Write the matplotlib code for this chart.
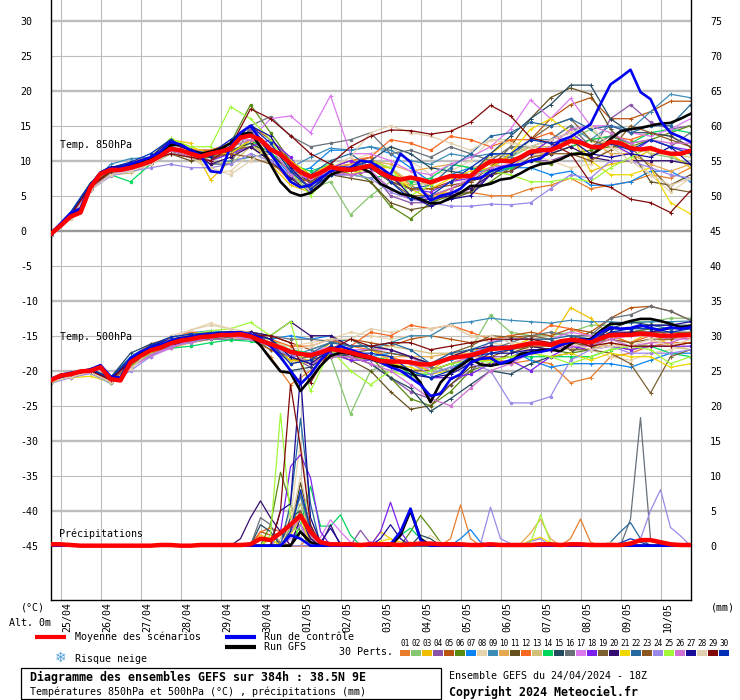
import matplotlib
matplotlib.use('Agg')
import matplotlib.pyplot as plt
from matplotlib.patches import Rectangle
import numpy as np

W, H = 740, 700

dates = ['25/04', '26/04', '27/04', '28/04', '29/04', '30/04', '01/05', '02/05',
         '03/05', '04/05', '05/05', '06/05', '07/05', '08/05', '09/05', '10/05']
left_ticks = list(range(30, -50, -5))
right_ticks = list(range(75, -5, -5))

colors = ['#E87D2C', '#86C66E', '#F0C000', '#8A52A8', '#B85410', '#5A8A10', '#0A84F0', '#E8D4AC',
          '#3C8CB8', '#E8A850', '#66501E', '#F86820', '#D0C078', '#00D85C', '#244A60', '#687078',
          '#DC78F0', '#7C20F0', '#7C6030', '#340C70', '#F0D800', '#2468A0', '#8C5820', '#9C88E8',
          '#A0F838', '#D070D0', '#180C98', '#E0D0B0', '#800808', '#0030B8']

# 6-hourly lines, 65 values
mean_850 = [-0.5, 0.7, 2, 2.6, 6.2, 8.1, 8.7, 8.7, 9, 9.4,
            9.9, 10.7, 11.7, 11.5, 11, 10.6, 11, 11.3, 11.7, 13.3,
            13.6, 13, 11.6, 10.9, 9.6, 8.4, 7.7, 8.3, 9.1, 8.8,
            8.7, 9, 9.3, 8.3, 7.6, 7.3, 7.6, 7.3, 6.9, 7.4,
            7.8, 7.8, 7.8, 9, 9.9, 10, 9.9, 10.5, 11.3, 11.5,
            11.5, 12.1, 12.8, 12.6, 12, 11.9, 12.7, 12.5, 11.8, 11.6,
            11.8, 11.3, 11, 11, 11.4]
gfs_850 = [-0.4, 0.9, 2.2, 3, 6.5, 8.3, 9, 9, 9.3, 9.8,
           10.2, 11, 12.2, 12.3, 11.5, 11, 11.3, 11.7, 12.5, 13.8,
           14, 12, 9.5, 7, 5.5, 5, 5.4, 6.5, 8, 8.5,
           9, 9, 8.3, 6.7, 6, 5.3, 5, 4.5, 3.9, 4,
           4.7, 5.4, 6.4, 6.4, 6.7, 7.3, 7.5, 8.2, 9, 9.5,
           9.7, 10.2, 10.9, 11, 10.8, 11.7, 13.1, 14.2, 14.5, 14.7,
           15, 15.3, 15.4, 16, 16.7]
ctrl_850 = [-0.4, 1, 2.5, 3.2, 6.5, 8.3, 9, 9, 9.5, 10,
            10.5, 11.3, 12.7, 12.3, 11.5, 10.8, 8.5, 8.3, 12, 14,
            15, 13, 11, 9, 7, 6.2, 6.5, 7.5, 8.5, 9,
            9, 10, 9.8, 9, 8, 11, 9.8, 6, 4.3, 5,
            5.3, 6, 7.4, 7.5, 8.5, 9, 9.3, 9.5, 10, 10.3,
            11.5, 12.9, 13.4, 14.3, 15.2, 18.1, 20.9, 21.9, 23, 19.8,
            18.8, 15.7, 14, 13.4, 12.7]
mean_500 = [-21.4, -20.7, -20.5, -20.1, -20, -19.5, -21.2, -21.4, -18.8, -17.9,
            -17.1, -16.7, -16.1, -15.7, -15.5, -15.2, -15.1, -14.9, -14.9, -14.8,
            -15.1, -15.7, -16.2, -16.7, -17.3, -17.6, -17.8, -17.4, -16.9, -17.1,
            -17.4, -17.8, -18.1, -18.6, -18.7, -18.7, -18.8, -19.1, -19.1, -18.7,
            -18.2, -18, -17.8, -17.4, -16.9, -16.8, -16.7, -16.4, -16.1, -16.1,
            -16.3, -15.8, -15.6, -15.7, -16, -15.4, -14.9, -14.9, -14.9, -14.7,
            -14.8, -15, -15, -14.9, -14.9]
gfs_500 = [-21.3, -20.7, -20.4, -20.2, -19.9, -19.3, -21, -21.3, -18.6, -17.6,
           -16.9, -16.5, -15.9, -15.5, -15.3, -15, -14.9, -14.7, -14.7, -14.6,
           -15, -16.4, -18.3, -20.1, -20.3, -22.9, -21.2, -19.3, -17.9, -17.4,
           -17.6, -18, -18.3, -18.8, -19.3, -19.5, -20, -21.7, -24.5, -21.7,
           -20.2, -19.3, -18.3, -19.1, -19.3, -19, -18.8, -17.6, -17.4, -17.1,
           -17, -17.2, -16.2, -15.5, -15.5, -14.3, -13.3, -13.3, -12.9, -12.6,
           -12.6, -12.9, -13.3, -13.8, -13.6]
ctrl_500 = [-21.2, -20.6, -20.3, -20.1, -19.8, -19.2, -20.8, -21, -18.2, -17.3,
            -16.7, -16.3, -15.7, -15.4, -15.2, -14.9, -14.8, -14.7, -14.6, -14.5,
            -14.8, -15.3, -16.5, -18, -20, -21.9, -20.5, -18.5, -17, -16.5,
            -17, -17.5, -18, -18.8, -19.5, -20, -21, -22, -23.6, -23.3,
            -21.2, -20.5, -18.8, -18.3, -18.2, -19, -18.5, -18, -17.5, -17.3,
            -17, -16.3, -15.9, -15.5, -15.7, -14.5, -13.8, -14, -13.9, -13.5,
            -13.9, -14.2, -13.8, -14, -13.8]
mean_rain = [0.2, 0.2, 0.1, 0, 0, 0, 0, 0, 0, 0,
             0, 0.1, 0.1, 0, 0, 0.1, 0.1, 0.1, 0.1, 0.1,
             0.2, 1, 0.8, 1.8, 3, 4.3, 2, 0.5, 0.2, 0.2,
             0.2, 0.1, 0.2, 0.2, 0.2, 0.1, 0.2, 0.3, 0.3, 0.2,
             0.2, 0.2, 0.1, 0.1, 0.2, 0.1, 0.1, 0.1, 0.1, 0.2,
             0.2, 0.1, 0.2, 0.2, 0.1, 0.1, 0.1, 0.1, 0.3, 0.8,
             0.8, 0.5, 0.2, 0.1, 0.1]
ctrl_rain = {24: 1.5, 25: 1, 34: 0.2, 35: 2, 36: 5.3, 37: 0.8}
gfs_rain = {25: 2, 26: 0.5, 35: 1.5, 36: 5, 37: 1}

# members, 12-hourly, 33 values
perts_850 = [
    [-0.7, 2, 6, 8.5, 9.2, 10, 12, 11, 10.5, 12, 14, 10, 7, 6, 8.5, 9.5, 10, 9, 6.5, 5, 5.5, 5.5, 5, 5, 6, 6.5, 7.5, 6, 6.5, 7, 8, 7.5, 9],
    [-0.5, 2.2, 6.5, 8.5, 9.5, 10.5, 12, 11, 10.5, 11, 12.5, 10, 7.5, 6, 7, 2.3, 5, 7, 6.5, 7, 8, 8, 9, 10.5, 12, 12, 13, 14.5, 12, 12.5, 11, 10.5, 9.5],
    [-0.4, 2.4, 6.5, 9, 9.5, 10.5, 13, 12.5, 7.3, 10, 13, 9.5, 6.5, 5.5, 9, 9, 9.5, 8, 6, 4.5, 6, 7, 11, 13, 11, 13, 14, 8.5, 9.5, 10, 11.5, 11, 9],
    [-0.6, 2.1, 6, 8, 9, 9.5, 11.5, 10.5, 10, 11.5, 14.5, 12, 9, 7, 9, 8, 8.5, 5, 4, 4, 5.5, 5.5, 8, 9, 10, 10, 11, 11, 16, 18, 15.5, 14.5, 15],
    [-0.5, 2.2, 6.3, 8.8, 9.5, 10.5, 12.5, 11.5, 11.5, 12.5, 15, 13, 10, 7, 9, 9.5, 10.5, 7.5, 6, 6, 7, 8, 10, 10.5, 13, 16, 18, 19, 16, 16, 17, 18.5, 18.5],
    [-0.6, 2, 6.2, 8.7, 9, 10, 11.5, 11, 11, 12.5, 18, 14, 10, 8, 9, 9, 7, 3.5, 1.7, 4, 5, 5.5, 7, 9, 10, 9.5, 11, 11.5, 12, 12, 13, 14, 15],
    [-0.4, 2.6, 6.8, 9, 9.5, 10.5, 12.5, 11.5, 11, 12.5, 15, 11, 8, 9, 11.5, 11.5, 12, 11, 9, 7, 8, 9, 8, 9, 9, 8, 8.5, 6.5, 6.5, 7, 8.5, 8.5, 7],
    [-0.5, 1.8, 5.8, 8, 8.7, 9.5, 11, 10.5, 8.5, 8.5, 11, 10, 9, 6, 9, 10, 11, 12, 10, 8, 8.5, 10, 13, 13, 11, 10, 9, 9.5, 12, 11, 8, 5.5, 7.5],
    [-0.6, 2.2, 6.4, 9.5, 10.3, 10.5, 12, 11, 9.5, 10, 10.5, 11, 9, 10.5, 11.8, 11.5, 12, 11.5, 10, 9.5, 11, 10.5, 11, 10.5, 13, 13, 15, 13, 15, 14.5, 17, 19.5, 19],
    [-0.5, 2.1, 6.2, 8.7, 9.2, 10, 12.5, 11.5, 11, 13, 14, 11, 8.5, 7.5, 9, 9.5, 10, 9.5, 8.5, 9, 9.5, 9, 9.5, 9, 11, 11, 12, 13, 11, 11, 9.5, 8.5, 9.5],
    [-0.7, 1.9, 5.8, 8.5, 9, 9.5, 11, 10, 10.5, 11, 13, 11, 8.5, 6, 8, 7.5, 7, 4, 3, 3.5, 4.5, 5.5, 9, 12, 16, 19, 20.4, 19.5, 14.5, 11.5, 7, 6.5, 8],
    [-0.5, 2.3, 6.4, 8.6, 9.8, 10.5, 12.5, 11.5, 11.5, 12, 14, 10, 7.5, 7, 9, 10, 10.5, 13, 12.5, 11.5, 13.5, 13, 12, 13, 13, 14, 12, 13, 13.5, 13, 14, 13.5, 12],
    [-0.6, 2, 6, 8, 8.2, 9.5, 11, 10.5, 10, 9.5, 12, 11, 9, 8, 9, 9, 9.5, 9, 7, 6.5, 8, 8, 10.5, 11, 12, 12, 13.5, 12, 13, 12.5, 11, 11, 10.5],
    [-0.5, 2.2, 6, 8, 7, 9.5, 12, 11, 10.5, 12, 13, 11, 9.5, 8.5, 9.5, 8, 7.5, 8, 7, 7.5, 9.5, 9, 8.5, 9, 10, 11, 12, 13, 13.5, 12.5, 14, 14.5, 14],
    [-0.4, 2.5, 6.8, 9, 9.5, 10, 12, 11, 11, 11.5, 12.5, 11, 8.5, 7, 8.5, 9, 10, 12, 11, 9, 8.5, 8, 11, 13.5, 16, 18, 20.8, 20.8, 16, 14, 14, 13.5, 12],
    [-0.6, 2.1, 6.2, 8.5, 9, 10, 11, 11.5, 9.5, 9.5, 15, 16.3, 13.5, 12, 12.5, 13, 14, 11, 11.5, 10.5, 12, 11, 10, 12, 12, 13, 15, 12, 13.5, 12.5, 13, 12, 14],
    [-0.5, 2.3, 6.5, 8.7, 9.5, 10.5, 13, 11.5, 11, 13, 13, 16, 16.4, 14, 19.3, 11, 11, 10, 8.5, 8, 9.5, 10.5, 12, 14.5, 18.7, 16, 18.9, 15, 15, 14, 13.5, 14.5, 16],
    [-0.5, 2.2, 6.4, 8.5, 9, 10, 11.5, 10.5, 10, 11, 12, 13, 10.5, 6.5, 9, 10, 9, 7, 6, 5.5, 7, 7.5, 8, 9.5, 11, 13, 14, 12, 12.5, 11, 13, 12, 11.5],
    [-0.6, 2, 6, 8.3, 8.8, 9.5, 11, 10.5, 10, 11.5, 12, 10, 7.5, 6.5, 8.5, 8.5, 9, 7, 5, 5, 6, 7, 9, 11, 13, 15, 16, 13, 12, 12, 9, 6, 5.5],
    [-0.5, 2.2, 6.4, 8.6, 9.2, 10.2, 12.5, 11.5, 9.5, 10.5, 12, 10, 7.5, 5.5, 8, 8, 8.5, 6, 4.5, 4.5, 5, 6, 8, 8.5, 10, 11, 12, 10.5, 10, 10, 10, 10, 9.5],
    [-0.4, 2.3, 6.5, 8.8, 9.6, 10.5, 13, 12, 11, 11, 13, 12, 10, 8, 9.5, 8, 9, 9, 6, 6, 7.5, 8.5, 9, 11, 14.5, 16, 14, 10, 8, 8, 9, 4, 2.4],
    [-0.6, 2.1, 6.2, 8.6, 9.2, 10, 12, 11, 11, 12, 14, 12, 9, 8, 10, 11, 9, 7, 6, 6.5, 9, 11, 13.5, 14, 15.5, 15, 16, 14.5, 15, 14, 15, 15, 18],
    [-0.5, 2.2, 6.3, 8.4, 9, 9.5, 11.5, 10.5, 10.5, 11, 10.5, 9.5, 8, 7, 8, 8.5, 9, 7, 6, 6, 6.5, 7, 8, 8.5, 10.5, 11, 11, 10, 11.5, 15, 14, 13, 12],
    [-0.8, 1.8, 5.8, 7.8, 8.5, 9, 9.5, 9, 9, 9.5, 11, 10, 8, 5.5, 8, 8, 7.5, 5.5, 4.5, 4, 3.5, 3.5, 3.8, 3.7, 4, 6, 8, 7.5, 10, 10, 9, 8, 7.5],
    [-0.5, 2.4, 6.8, 8.8, 9.5, 10.5, 13.2, 12, 12, 17.7, 16, 13, 8.5, 5, 8, 9, 10, 9, 5, 6.5, 8, 8, 8.5, 8, 7, 7, 7.5, 7, 9, 10.5, 12, 11, 11],
    [-0.6, 2.1, 6, 8, 8.7, 9.5, 11.5, 10.5, 10, 12, 13, 12, 8, 7.5, 8.5, 8, 8.5, 6, 4.5, 5, 6, 7.5, 9, 9.5, 11, 12, 14.5, 15, 14, 12.5, 13, 12.5, 12.5],
    [-0.5, 2.3, 6.6, 9, 9.6, 10.5, 13, 11.5, 10.5, 12.5, 15, 13.5, 9, 6, 8.5, 9, 9, 8, 5, 3.5, 4.5, 5, 8, 9.5, 11, 11.5, 13, 11, 10.5, 11, 10.5, 12, 9.5],
    [-0.7, 1.7, 5.8, 8, 8.5, 9.5, 11, 10.5, 9, 8, 10, 12, 8.5, 6, 9, 10.5, 14, 15, 14, 13.5, 12.5, 11.5, 13, 12.5, 12, 13, 14, 15, 12, 10, 8, 6.5, 7.5],
    [-0.5, 2.2, 6.3, 8.5, 9.2, 10, 11, 10.5, 10, 12, 17.4, 16, 13.6, 11, 9.5, 12, 13.5, 14.4, 14.3, 13.8, 14.2, 15.5, 17.9, 16.4, 13.3, 12.5, 11, 6.9, 6.2, 4.5, 4, 2.6, 5.7],
    [-0.4, 2.6, 6.8, 9, 9.8, 11, 13, 11.5, 11, 13, 15, 12.5, 8.5, 6, 8, 9, 10, 7, 4.5, 5, 7, 9, 11, 11, 13, 12.5, 13, 12, 12.5, 11.5, 13, 12, 11],
]
perts_500 = [
    [-21.5, -21, -20, -21.4, -19, -17, -15.5, -15.3, -15, -14.5, -15, -18, -22, -20, -17.5, -16.5, -17, -18, -19, -20, -19, -18, -18, -19, -18.5, -19, -21.7, -21, -18, -17.5, -16.5, -16, -16],
    [-21.6, -20.7, -20.1, -21.7, -19.2, -17.2, -16, -15.5, -15, -14.8, -14.8, -15.5, -17, -19, -18, -26.2, -20, -19, -20, -19.5, -18, -17, -12, -14.5, -15, -15, -14.5, -13.5, -13.5, -13, -13, -12.5, -12.5],
    [-21.4, -20.5, -20, -21.3, -18.5, -16.5, -15.5, -15.2, -14.8, -14.5, -14.5, -16, -19, -18.5, -16, -15.5, -17, -18.5, -19, -20, -18, -17, -17, -16.5, -15.5, -15.5, -11, -12.5, -15, -16, -14.5, -16.5, -16],
    [-21.5, -20.6, -19.9, -21.4, -19, -17.5, -16.5, -16, -15.5, -15.5, -15.5, -17, -18, -19.5, -17, -18, -19, -21, -23, -24, -22, -20, -18, -18, -17, -17, -16, -16.5, -15, -14.5, -14, -15, -15.5],
    [-21.4, -20.5, -20, -21.2, -18.5, -16.8, -16, -15.5, -15, -15, -14.5, -15, -16, -17, -16, -15.5, -16, -16.5, -15.5, -15, -15.5, -16, -15.5, -15, -14.5, -15, -14, -14.5, -12.5, -11, -10.8, -11.5, -12.8],
    [-21.5, -20.8, -20.2, -21.5, -19.4, -17.5, -16.5, -15.8, -15.3, -15, -15, -15.5, -17.5, -18, -17.5, -17.5, -18, -21, -24, -25, -23, -20, -19, -18.5, -17.5, -17, -17.5, -17, -15, -14.5, -14, -14, -13.5],
    [-21.3, -20.4, -19.8, -21, -18, -16.3, -15.2, -14.6, -14.3, -14.5, -14.5, -15.5, -15, -15.5, -15, -17.5, -18, -17.5, -18, -19, -18.5, -17.5, -16.5, -17, -18.5, -19.5, -19, -19, -19, -19.5, -18.5, -17.5, -17.5],
    [-21.7, -20.9, -20.2, -21.6, -19.5, -17, -15, -14.2, -13.2, -14, -14.5, -16, -16.5, -16, -15.5, -14.5, -15, -15.5, -15, -15, -13.5, -15, -16, -16.5, -16.5, -17, -16, -17, -18, -18.5, -17.5, -17, -16.5],
    [-21.5, -20.6, -20, -21.3, -18.3, -16.5, -16, -15.6, -15.2, -15, -15.3, -16.5, -18, -17, -16, -15.5, -17, -16, -15, -15, -13.3, -13, -12.5, -12.8, -13, -13.2, -12.8, -13, -13, -13.2, -13, -13, -12.9],
    [-21.4, -20.8, -20.1, -21.4, -19, -17.5, -16.8, -16, -15.5, -15.2, -15.5, -17, -18.5, -19, -17.5, -18, -18.5, -18, -18, -18, -17.5, -17.5, -17, -16.5, -17, -17, -16.5, -17, -16, -17, -16, -15.5, -15],
    [-21.5, -20.7, -20.1, -21.5, -19.5, -17.5, -16.3, -15.5, -15.2, -15, -15.2, -16.5, -18.5, -18.5, -17.5, -18.5, -20, -23, -25.5, -25, -22, -19.5, -19, -17.5, -16.5, -17, -15.5, -14.5, -15, -14.5, -14.5, -14.5, -14.5],
    [-21.3, -20.4, -19.7, -21.1, -18.2, -16.2, -15.3, -14.5, -14.6, -14.7, -14.5, -15.5, -16.5, -16.5, -15.5, -16.5, -14.5, -15, -13.5, -14, -13.5, -14.5, -15.5, -15, -15.5, -13.5, -14, -15, -15, -16, -15, -15, -15.5],
    [-21.5, -20.6, -20.2, -21.3, -19, -17, -16, -15.3, -14.6, -14.5, -15, -16.5, -17.5, -17.5, -17, -17, -17, -16.5, -17, -17.5, -17.5, -18, -17, -16.5, -16, -16.5, -17, -16, -16.5, -17, -16.5, -16.5, -17],
    [-21.6, -20.9, -20.3, -21.8, -19.5, -17.8, -16.8, -16.5, -16, -15.6, -15.8, -16.5, -17, -17.5, -18, -18, -18, -18.5, -20.5, -20.5, -19.5, -18.5, -18.5, -18, -18, -18, -18, -18, -17, -16.5, -16.5, -17.5, -18],
    [-21.4, -20.5, -19.8, -21, -17.5, -16.2, -15.5, -15, -14.8, -15, -15.3, -16.5, -20, -19.5, -17.5, -18, -19, -21, -22.5, -25.8, -24, -22, -20, -20.5, -19, -18, -17.5, -15.5, -14, -13, -13.5, -13.5, -13.5],
    [-21.5, -20.7, -20, -21.5, -19.2, -17.5, -16.3, -15.8, -15.5, -15.2, -14.5, -15, -15.5, -15.5, -15.8, -16.5, -16.5, -17, -18, -19.5, -20, -19, -17, -16, -15, -14.5, -15, -15, -12.5, -12, -10.8, -11.5, -12.8],
    [-21.6, -20.8, -20.3, -21.7, -19.3, -18, -16.8, -15.6, -15.3, -15, -15.5, -16, -17.5, -17.5, -16.5, -17, -17, -17, -18, -20, -19, -18, -15.8, -15.5, -15.5, -15.5, -14.5, -15, -15.5, -15, -15, -15.5, -15.5],
    [-21.5, -20.6, -20, -21.4, -19.4, -17, -16, -15.5, -15.2, -14.7, -15, -16, -17.5, -18, -17.5, -18.5, -18.5, -19, -20, -21, -21, -20.5, -19, -18.5, -20, -18, -16.5, -17, -16.5, -17, -16.5, -16.5, -16.5],
    [-21.4, -20.5, -19.9, -21.3, -18.8, -16.8, -16, -15.3, -15, -14.6, -15, -16.5, -18.5, -18, -17, -17.5, -17, -17.5, -18, -19, -17.5, -16.5, -15, -15.2, -15, -15.5, -17, -17, -17.5, -19, -23.2, -18, -17],
    [-21.5, -20.6, -20.2, -21.2, -18.7, -17, -16.5, -15.5, -15, -14.8, -14.5, -15, -13, -15, -15, -16.5, -16.5, -17, -18, -19, -18, -17, -16.5, -16.5, -16.5, -17, -16, -16, -14.5, -14.5, -14.5, -14, -13.8],
    [-21.5, -21, -20.8, -21.6, -19.3, -17.5, -16.2, -15.4, -15, -14.7, -15.2, -16.5, -18.5, -18.5, -16.5, -17, -18, -19, -19.5, -20.5, -20, -18.5, -18.5, -18, -17.5, -18, -17.5, -18.5, -17.5, -18, -18, -19.5, -19],
    [-21.4, -20.5, -19.9, -21, -18.2, -16.6, -15.5, -15.2, -14.8, -14.5, -14.8, -15.5, -18, -17.5, -16, -16.5, -16.5, -16, -17, -19, -17.5, -17, -16, -15.5, -15.5, -15.5, -15, -15.5, -14, -14, -13.5, -14, -14],
    [-21.5, -20.7, -20.1, -21.5, -19.4, -17.3, -16.1, -15.5, -15.2, -15, -15.3, -17, -18, -19, -18, -18, -18, -19, -20, -20, -19, -18.5, -18, -17, -16.5, -16.5, -16, -16.5, -15.5, -16, -15.5, -15.5, -14.5],
    [-21.8, -21, -20.4, -21.8, -20, -18, -16.5, -16, -15.3, -15, -15.5, -16.5, -18, -17.5, -17, -17.5, -18.5, -18.5, -19, -20.5, -19.5, -19, -20, -24.6, -24.6, -23.7, -18.5, -17, -16.5, -17.5, -17.5, -17.5, -17],
    [-21.7, -20.8, -20.2, -21.7, -19.5, -17.5, -15.8, -14.8, -14.3, -14, -13.1, -15, -13, -22.9, -17, -20, -22, -20, -21, -20, -19, -18.5, -18.8, -18, -17.5, -18, -19, -18, -17, -16.5, -17, -19, -18],
    [-21.5, -20.7, -20.1, -21.6, -19.6, -17.7, -16.7, -15.7, -15.3, -15, -15.5, -16.5, -17.5, -19, -18, -18, -19, -20, -22, -24, -25, -22.5, -20, -19, -17.5, -17, -16.5, -16.5, -15.5, -16.5, -16, -16, -15],
    [-21.4, -20.6, -20, -21.2, -18.5, -16.5, -15.5, -15, -14.6, -14.4, -14.6, -15.5, -18, -19, -17, -17.5, -18, -19.5, -20.5, -21, -20.5, -19, -17.5, -17.5, -17, -17, -15.5, -16, -14, -14, -13.5, -13.5, -13],
    [-21.6, -20.9, -20.2, -21.6, -19.8, -17, -15.5, -14.2, -13.5, -14, -14.7, -16, -17, -16.5, -15.5, -15.5, -14, -14.5, -14, -14, -13.5, -15, -15, -16, -16, -16, -16, -17, -16.5, -16.5, -15.5, -16.5, -15.5],
    [-21.4, -20.5, -20, -21.3, -18.7, -16.8, -15.8, -15.2, -15, -14.8, -15, -15, -16, -21.7, -17, -15.5, -16.5, -16, -16, -17, -16.5, -16, -15.5, -15.5, -15.5, -16, -15.5, -16.5, -16, -16.5, -16.5, -16.5, -16],
    [-21.4, -20.4, -19.8, -21, -18.2, -16.4, -15.2, -14.8, -14.6, -14.6, -14.9, -16, -19, -18.5, -16.5, -17.5, -17.5, -18, -20, -21, -20, -18, -17.5, -17, -16, -16, -15.5, -16, -14.5, -14, -14, -14.5, -14],
]
# member rain: step -> mm, everything else is dry
rain_events = {
    1: {26: 1.5, 40: 1, 41: 5.8, 42: 1, 52: 1, 53: 3.8, 54: 0.5},
    2: {24: 2.5, 25: 6, 26: 2},
    3: {21: 1.5, 22: 1, 33: 2, 34: 1, 35: 0.5, 36: 0.5},
    4: {25: 3, 26: 1, 31: 2.2, 32: 0.3},
    5: {21: 2, 22: 1.5, 23: 0.5, 25: 2},
    6: {22: 3, 23: 10.5, 24: 6, 25: 2, 36: 2, 37: 4.3, 38: 2.5, 39: 0.5},
    7: {24: 2, 25: 3, 41: 1, 42: 2.3, 43: 0.5},
    8: {24: 4, 25: 15, 26: 4, 38: 1.5, 39: 0.5},
    9: {22: 1, 24: 3, 25: 7, 26: 2},
    10: {47: 0.3, 48: 1.8, 49: 3.8, 50: 1},
    11: {24: 2, 25: 9, 26: 3},
    12: {21: 2, 22: 2.5, 23: 2},
    13: {23: 1, 24: 5, 25: 6, 26: 2},
    14: {25: 3, 26: 8.5, 27: 2.8, 28: 2.8, 29: 4.4, 30: 1.5, 35: 1.5, 36: 2.5, 37: 1},
    15: {21: 3, 22: 2, 24: 4, 25: 5, 26: 1, 37: 1.5, 38: 1},
    16: {21: 4, 22: 3, 24: 3, 25: 7.5, 26: 2, 58: 3.8, 59: 18.3, 60: 1},
    17: {24: 1, 25: 3, 27: 1.2, 28: 3.7, 29: 2, 30: 0.5, 32: 0.6},
    18: {23: 2, 24: 11.3, 25: 13, 26: 9.7, 27: 2, 33: 2, 34: 6.2, 35: 2},
    19: {24: 3, 25: 4.5, 26: 1},
    20: {19: 1, 20: 4, 21: 6.4, 22: 4, 23: 2, 25: 4, 26: 1, 28: 3},
    21: {22: 1, 24: 1.5, 25: 4, 33: 0.6, 34: 1, 48: 0.8, 49: 1.2, 50: 0.4},
    22: {24: 6, 25: 18.2, 26: 6, 56: 0.5, 57: 2, 58: 3.3, 59: 1},
    23: {24: 2, 25: 5, 26: 1.5},
    24: {43: 0.2, 44: 5.5, 45: 1, 46: 0.3, 48: 0.6, 49: 1, 58: 0.2, 59: 1, 60: 5, 61: 8, 62: 2.6, 63: 1.4},
    25: {22: 1.5, 23: 18.9, 24: 4, 25: 1, 37: 0.5, 48: 0.4, 49: 4.4, 50: 0.5},
    26: {24: 2, 25: 4, 26: 1.5},
    27: {23: 5, 24: 6, 25: 24.5, 26: 4, 27: 0.5, 28: 2.5, 29: 0.3, 33: 1, 34: 3, 35: 1},
    28: {24: 3, 25: 10, 26: 3, 56: 0.5},
    29: {23: 5, 24: 23, 25: 14, 26: 3},
    30: {24: 2, 25: 8, 26: 2.5, 57: 0.4, 58: 1, 59: 0.5},
}

steps = np.arange(65)
pert_steps = np.arange(0, 65, 2)
rain_base = -45


def rain_line(events):
    vals = np.zeros(65)
    for s, mm in events.items():
        vals[s] = mm
    return vals + rain_base


fig = plt.figure(figsize=(W / 100, H / 100), dpi=100)
ax = fig.add_axes([50.5 / W, 100 / H, 640 / W, 600 / H])
ax.set_xlim(0, 64)
ax.set_ylim(-52.76, 32.96)
ax.set_xticks([])
ax.set_yticks([])
ax.spines['top'].set_visible(False)
for side in ['left', 'right', 'bottom']:
    ax.spines[side].set_linewidth(1.0)

mono = 'DejaVu Sans Mono'


def px_text(x, y, s, size=7.2, **kw):
    fig.text(x / W, 1 - y / H, s, family=mono, fontsize=size, va='center', **kw)


# grid
for k in range(len(dates)):
    ax.axvline(1 + 4 * k, color='#bbbbbb', lw=0.8, zorder=1)
for t in left_ticks:
    if t == 0:
        ax.axhline(t, color='#999999', lw=1.7, zorder=1)
    elif t % 10 == 0:
        ax.axhline(t, color='#bdbdbd', lw=1.7, zorder=1)
    else:
        ax.axhline(t, color='#bdbdbd', lw=0.8, zorder=1)

# members first
markers = ['+', 'o']
for i, col in enumerate(colors):
    m = markers[i % 2]
    ms = 3 if m == '+' else 1.8
    for vals in [perts_850[i], perts_500[i]]:
        ax.plot(pert_steps, vals, color=col, lw=0.9, marker=m, ms=ms, mew=0.7, zorder=2)
    ax.plot(steps, rain_line(rain_events[i + 1]), color=col, lw=0.9, zorder=2)

for vals in [gfs_850, gfs_500, rain_line(gfs_rain)]:
    ax.plot(steps, vals, color='black', lw=1.9, zorder=3)
for vals in [ctrl_850, ctrl_500, rain_line(ctrl_rain)]:
    ax.plot(steps, vals, color='#0000f0', lw=1.9, zorder=4)
for vals in [mean_850, mean_500, np.array(mean_rain) + rain_base]:
    ax.plot(steps, vals, color='#ff0000', lw=3.2, zorder=5)

# tick labels
for t in left_ticks:
    ax.text(-30.5 / 640, t - 0.15, str(t), transform=ax.get_yaxis_transform(), family=mono,
            fontsize=7.2, ha='left', va='center', clip_on=False)
for t, r in zip(left_ticks, right_ticks):
    ax.text(659.5 / 640, t - 0.15, str(r), transform=ax.get_yaxis_transform(), family=mono,
            fontsize=7.2, ha='left', va='center', clip_on=False)
for k, d in enumerate(dates):
    px_text(67.5 + 40 * k, 617, d, rotation=90, ha='center')

px_text(60, 145, 'Temp. 850hPa')
px_text(60, 337, 'Temp. 500hPa')
px_text(59, 534, 'Précipitations')
px_text(20.5, 607, '(°C)')
px_text(9, 623, 'Alt. 0m')
px_text(711, 607, '(mm)')

# legend
fig.add_artist(plt.Line2D([35 / W, 66 / W], [1 - 637 / H] * 2, color='#ff0000', lw=3, solid_capstyle='butt'))
fig.add_artist(plt.Line2D([225 / W, 256 / W], [1 - 637 / H] * 2, color='#0000f0', lw=3, solid_capstyle='butt'))
fig.add_artist(plt.Line2D([225 / W, 256 / W], [1 - 647 / H] * 2, color='black', lw=3, solid_capstyle='butt'))
px_text(75, 637, 'Moyenne des scénarios')
px_text(264, 637, 'Run de contrôle')
px_text(264, 647, 'Run GFS')
px_text(339, 652, '30 Perts.')
px_text(75, 659, 'Risque neige')
fig.text(60.5 / W, 1 - 658 / H, '\u2744', family='DejaVu Sans', fontsize=10, color='#4f9fd8',
         ha='center', va='center')

for i, col in enumerate(colors):
    x0 = 400 + 11 * i
    fig.add_artist(Rectangle((x0 / W, 1 - 656 / H), 10 / W, 6 / H, color=col, lw=0,
                             transform=fig.transFigure))
    px_text(x0 + 5, 644, '%02d' % (i + 1), size=5.6, ha='center')

# bottom boxes
fig.add_artist(Rectangle((20.5 / W, 1 - 699 / H), 420 / W, 31.5 / H, fill=False, ec='black', lw=0.9,
                         transform=fig.transFigure))
px_text(30, 677, 'Diagramme des ensembles GEFS sur 384h : 38.5N 9E', size=8.4, weight='bold')
px_text(30, 692, 'Températures 850hPa et 500hPa (°C) , précipitations (mm)')
px_text(449, 676, 'Ensemble GEFS du 24/04/2024 - 18Z')
px_text(449, 692, 'Copyright 2024 Meteociel.fr', size=8.4, weight='bold')

fig.savefig('out.png', dpi=100)
